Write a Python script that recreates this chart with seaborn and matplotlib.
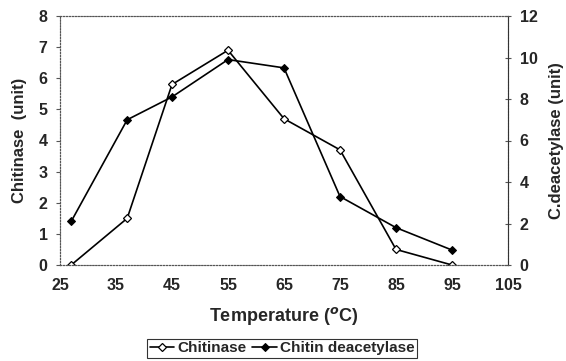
import matplotlib.pyplot as plt
import pandas as pd
import seaborn as sns

temperature = [27, 37, 45, 55, 65, 75, 85, 95]
chitinase = [0.0, 1.5, 5.8, 6.9, 4.7, 3.7, 0.5, 0.0]
deacetylase = [2.1, 7.0, 8.1, 9.9, 9.5, 3.3, 1.8, 0.72]

sns.set_style("white")
plt.rcParams['font.family'] = ['Liberation Sans', 'DejaVu Sans']
plt.rcParams['font.weight'] = 'bold'

df = pd.DataFrame({"temp": temperature, "chit": chitinase, "deac": deacetylase})

fig = plt.figure(figsize=(5.66, 3.61), dpi=100)
ax = fig.add_axes([60 / 566, 1 - 265 / 361, 448 / 566, 249 / 361])
ax2 = ax.twinx()

sns.lineplot(data=df, x="temp", y="chit", ax=ax, color="black", lw=1.2,
             marker="D", markersize=4.5, markerfacecolor="white",
             markeredgecolor="black", markeredgewidth=0.9, label="Chitinase",
             legend=False)
sns.lineplot(data=df, x="temp", y="deac", ax=ax2, color="black", lw=1.2,
             marker="D", markersize=4.5, markerfacecolor="black",
             markeredgecolor="black", label="Chitin deacetylase", legend=False)

ax.set_xlim(25, 105)
ax.set_ylim(0, 8)
ax2.set_ylim(0, 12)
ax.set_xticks(range(25, 106, 10))
ax.set_yticks(range(0, 9))
ax2.set_yticks(range(0, 13, 2))

for a in (ax, ax2):
    for s in a.spines.values():
        s.set_linewidth(0.8)
        s.set_color("#555555")
        s.set_linestyle(":")
    a.tick_params(labelsize=11.5, width=0.8, length=3, color="#555555")
ax2.spines["right"].set_linestyle("-")
ax2.spines["right"].set_color("#333333")
ax.tick_params(axis="y", direction="out", pad=6)
ax.tick_params(axis="x", direction="in", pad=9)
ax2.tick_params(axis="y", direction="inout", length=5, pad=6)

ax.set_xlabel("Temperature ($^{o}$C)", fontsize=13, fontweight="bold", labelpad=9)
ax.set_ylabel("Chitinase  (unit)", fontsize=12, fontweight="bold", labelpad=8)
ax2.set_ylabel("C.deacetylase (unit)", fontsize=12, fontweight="bold", labelpad=8)

h1, l1 = ax.get_legend_handles_labels()
h2, l2 = ax2.get_legend_handles_labels()
leg = fig.legend(h1 + h2, l1 + l2, loc="center", bbox_to_anchor=(282 / 566, 0.035),
                 ncol=2, fontsize=11, frameon=True, fancybox=False,
                 handlelength=1.6, handletextpad=0.2, columnspacing=0.4,
                 borderpad=0.15, markerscale=0.8)
leg.get_frame().set_edgecolor("black")
leg.get_frame().set_linewidth(0.8)

fig.savefig("out.png", dpi=100)
